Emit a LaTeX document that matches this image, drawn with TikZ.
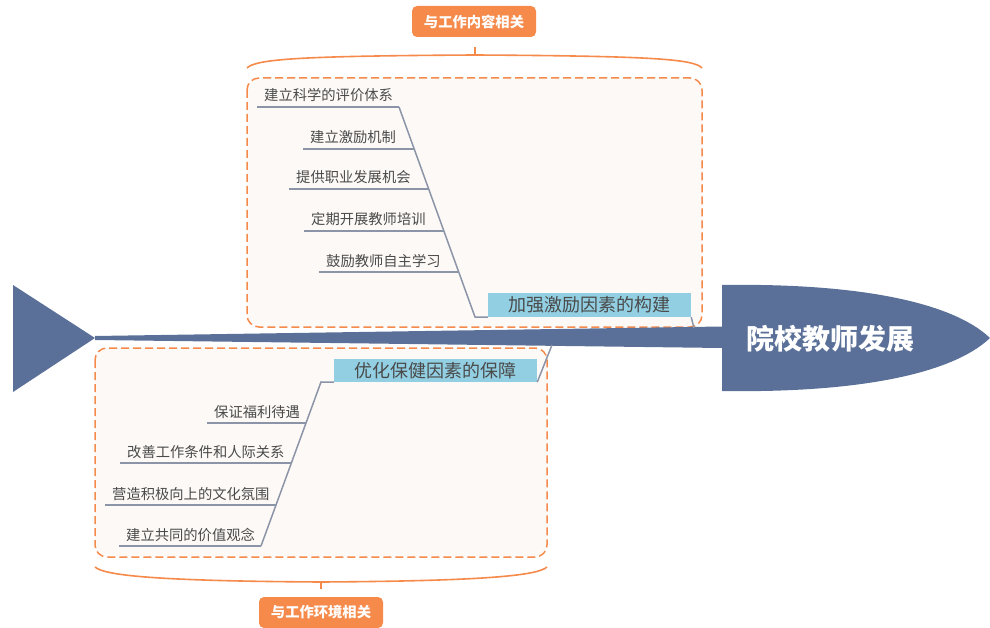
\documentclass[tikz,border=0pt]{standalone}
\usepackage{fontspec}
\newfontfamily\cjk{Noto Sans CJK SC}
\definecolor{org}{HTML}{F58A4B}
\definecolor{bgc}{HTML}{FDF9F6}
\definecolor{navy}{HTML}{5A7098}
\definecolor{bline}{HTML}{8C95A8}
\definecolor{lblue}{HTML}{92CFE2}
\definecolor{txt}{HTML}{4A4A4A}
\begin{document}
\begin{tikzpicture}[x=1pt,y=-1pt,
  item/.style={anchor=base west, inner sep=0, text=txt, font=\cjk\fontsize{14.3}{16}\selectfont},
  branch/.style={draw=bline, line width=1.5},
  cat/.style={fill=lblue, text=txt, inner sep=0, minimum width=203, minimum height=24, font=\cjk\fontsize{18}{20}\selectfont},
  tag/.style={fill=org, rounded corners=5, text=white, inner sep=0, minimum width=124, minimum height=31, font=\cjk\bfseries\fontsize{14.3}{16}\selectfont},
  group/.style={draw=org, fill=bgc, rounded corners=12, line width=1.5, dash pattern=on 8pt off 4pt},
  brace/.style={draw=org, line width=1.6},
  fish/.style={fill=navy, draw=none}]
\useasboundingbox (0,0) rectangle (990,628);

% group boxes
\draw[group] (247,78) rectangle (702,327);
\draw[group] (95,348) rectangle (547,557);

% braces
\draw[brace] (247,68) .. controls (256,59) and (300,56) .. (475,55) .. controls (650,56) and (694,59) .. (702,68);
\draw[brace] (475,55) -- (475,47);
\draw[brace] (95,567) .. controls (104,575) and (150,581) .. (321,582) .. controls (492,581) and (538,575) .. (547,567);
\draw[brace] (321,582) -- (321,589);

% tags
\node[tag] (t1) at (474,21.5) {与工作内容相关};
\node[tag] (t2) at (321,612.5) {与工作环境相关};

% fish
\fill[fish] (13,285) -- (13,392) -- (95,338) -- cycle;
\fill[fish] (95,336) -- (722,326.5) -- (722,348) -- (95,340) -- cycle;
\fill[fish] (722,285) .. controls (850,283) and (950,300) .. (990,338) .. controls (950,376) and (850,393) .. (722,391) -- cycle;
\node[text=white, font=\cjk\bfseries\fontsize{28}{30}\selectfont, inner sep=0] (head) at (830,339) {院校教师发展};

\coordinate (s1) at (694,328);
\coordinate (s2) at (552,345);

% category boxes
\node[cat] (b1) at (589.5,305) {加强激励因素的构建};
\node[cat, minimum height=23] (b2) at (435.5,370.5) {优化保健因素的保障};

% top branch
\coordinate (j1) at (399,107);
\coordinate (j2) at (414.2,149);
\coordinate (j3) at (428.7,189);
\coordinate (j4) at (443.9,231);
\coordinate (j5) at (458.7,272);
\coordinate (jb) at (475,317);
\draw[branch] (j1) -- (jb) -- (b1.south west);
\draw[branch] (b1.south east) -- (s1);

\node[item] (i1) at (264,101) {建立科学的评价体系};
\node[item] (i2) at (310,143) {建立激励机制};
\node[item] (i3) at (296,183) {提供职业发展机会};
\node[item] (i4) at (311,225) {定期开展教师培训};
\node[item] (i5) at (326,266) {鼓励教师自主学习};
\draw[branch] (i1.base west) ++(-7,6) -- (j1);
\draw[branch] (i2.base west) ++(-7,6) -- (j2);
\draw[branch] (i3.base west) ++(-7,6) -- (j3);
\draw[branch] (i4.base west) ++(-7,6) -- (j4);
\draw[branch] (i5.base west) ++(-7,6) -- (j5);

% bottom branch
\coordinate (kb) at (321,382);
\coordinate (k1) at (306,423);
\coordinate (k2) at (291.4,463);
\coordinate (k3) at (276,505);
\coordinate (k4) at (261,546);
\draw[branch] (b2.south west) -- (kb) -- (k4);
\draw[branch] (b2.south east) -- (s2);

\node[item] (m1) at (214,417) {保证福利待遇};
\node[item] (m2) at (127,457) {改善工作条件和人际关系};
\node[item] (m3) at (112,499) {营造积极向上的文化氛围};
\node[item] (m4) at (126,540) {建立共同的价值观念};
\draw[branch] (m1.base west) ++(-7,6) -- (k1);
\draw[branch] (m2.base west) ++(-7,6) -- (k2);
\draw[branch] (m3.base west) ++(-7,6) -- (k3);
\draw[branch] (m4.base west) ++(-7,6) -- (k4);
\end{tikzpicture}
\end{document}
